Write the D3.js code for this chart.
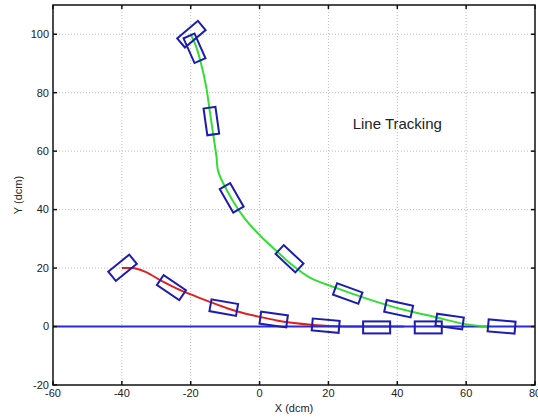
<!DOCTYPE html>
<html>
<head>
<meta charset="utf-8">
<script src="https://cdnjs.cloudflare.com/ajax/libs/d3/7.8.5/d3.min.js"></script>
<style>
body { margin: 0; background: #fff; }
text { font-family: Arial, "Liberation Sans", sans-serif; fill: #222; }
.grid line { stroke: #bdbdbd; stroke-dasharray: 1,2; }
</style>
</head>
<body>
<div id="chart"></div>
<script>
// line tracking plot: two paths converging on y = 0
var width = 538,
    height = 417;

var margin = {left: 53, right: 3, top: 5, bottom: 32};

var xTicks = [-60, -40, -20, 0, 20, 40, 60, 80];
var yTicks = [-20, 0, 20, 40, 60, 80, 100];

// target line
var lineX = [-60, 80];
var lineY = [0, 0];

// red path (start at -40,20)
var redX = [-40, -37, -33, -28.5, -24, -20, -15, -9, -4, 0, 5, 10, 15, 20, 30, 42];
var redY = [20, 20, 18.6, 15.6, 13, 11, 8.7, 6.1, 4.4, 3.3, 2.1, 1.2, 0.6, 0.2, 0, 0];

// green path (start at -20,100)
var greenX = [-20, -18.5, -17, -15.5, -14.5, -13.5, -12.5, -12, -8, -4, 0.5, 4.5, 9, 14.5, 22, 32, 41.6, 51.5, 59, 66];
var greenY = [100, 96, 90, 82, 74, 66, 58, 53, 43.5, 36.5, 30.7, 26.3, 21.5, 16.8, 13.3, 9.2, 5.8, 3.1, 1, 0];

// robot poses along each path (x, y, heading in degrees)
var greenPoseX = [-19.8, -18.9, -14, -8.1, 8.7, 25.6, 40.4, 55.2, 70.3];
var greenPoseY = [100, 95.2, 70.3, 44, 23.2, 11.3, 6.1, 1.7, 0];
var greenPoseA = [40, -66, -82, -60, -43, -20, -12, -8, -5];

var redPoseX = [-39.8, -25.6, -10.4, 4.1, 19.2, 34, 49];
var redPoseY = [20.1, 13.3, 6.5, 2.4, 0.3, -0.3, -0.3];
var redPoseA = [39, -34, -10, -8, -5, 0, 0];

var x = d3.scaleLinear()
    .domain([-60, 80])
    .range([margin.left, width - margin.right]);

var y = d3.scaleLinear()
    .domain([-20, 110])
    .range([height - margin.bottom, margin.top]);

var svg = d3.select("#chart").append("svg")
    .attr("width", width)
    .attr("height", height);

svg.append("defs").append("clipPath")
    .attr("id", "clip")
    .append("rect")
    .attr("x", margin.left)
    .attr("y", margin.top)
    .attr("width", width - margin.left - margin.right)
    .attr("height", height - margin.top - margin.bottom);

// grid
var grid = svg.append("g").attr("class", "grid");
grid.selectAll(".gx")
    .data(xTicks.slice(1, -1))
    .enter().append("line")
    .attr("x1", function(d) { return x(d); })
    .attr("x2", function(d) { return x(d); })
    .attr("y1", y.range()[0])
    .attr("y2", y.range()[1]);
grid.selectAll(".gy")
    .data(yTicks.slice(1))
    .enter().append("line")
    .attr("y1", function(d) { return y(d); })
    .attr("y2", function(d) { return y(d); })
    .attr("x1", x.range()[0])
    .attr("x2", x.range()[1]);

var plot = svg.append("g").attr("clip-path", "url(#clip)");

var line = d3.line()
    .x(function(d) { return x(d[0]); })
    .y(function(d) { return y(d[1]); });

plot.append("path")
    .datum(d3.zip(redX, redY))
    .attr("d", line.curve(d3.curveMonotoneX))
    .attr("fill", "none")
    .attr("stroke", "#e02020")
    .attr("stroke-width", 2);

plot.append("path")
    .datum(d3.zip(lineX, lineY))
    .attr("d", line.curve(d3.curveLinear))
    .attr("fill", "none")
    .attr("stroke", "#2a2ad8")
    .attr("stroke-width", 2);

plot.append("path")
    .datum(d3.zip(greenX, greenY))
    .attr("d", line.curve(d3.curveCatmullRom))
    .attr("fill", "none")
    .attr("stroke", "#33dd33")
    .attr("stroke-width", 2);

// robot boxes, drawn in screen space
var boxL = 27, boxW = 12;
var poses = d3.zip(greenPoseX, greenPoseY, greenPoseA)
    .concat(d3.zip(redPoseX, redPoseY, redPoseA));

plot.selectAll(".robot")
    .data(poses)
    .enter().append("rect")
    .attr("class", "robot")
    .attr("x", -boxL / 2)
    .attr("y", -boxW / 2)
    .attr("width", boxL)
    .attr("height", boxW)
    .attr("transform", function(d) {
        return "translate(" + x(d[0]) + "," + y(d[1]) + ") rotate(" + (-d[2]) + ")";
    })
    .attr("fill", "none")
    .attr("stroke", "#1c1cb0")
    .attr("stroke-width", 2);

// frame with inward ticks on all sides
var x0 = x.range()[0], x1 = x.range()[1], y0 = y.range()[0], y1 = y.range()[1];
var tk = 4;

svg.append("rect")
    .attr("x", x0)
    .attr("y", y1)
    .attr("width", x1 - x0)
    .attr("height", y0 - y1)
    .attr("fill", "none")
    .attr("stroke", "#111")
    .attr("stroke-width", 1.5);

var ticks = svg.append("g").attr("stroke", "#111").attr("stroke-width", 1.5);
xTicks.forEach(function(d) {
    ticks.append("line").attr("x1", x(d)).attr("x2", x(d)).attr("y1", y0).attr("y2", y0 - tk);
    ticks.append("line").attr("x1", x(d)).attr("x2", x(d)).attr("y1", y1).attr("y2", y1 + tk);
});
yTicks.forEach(function(d) {
    ticks.append("line").attr("y1", y(d)).attr("y2", y(d)).attr("x1", x0).attr("x2", x0 + tk);
    ticks.append("line").attr("y1", y(d)).attr("y2", y(d)).attr("x1", x1).attr("x2", x1 - tk);
});

svg.selectAll(".xlab")
    .data(xTicks)
    .enter().append("text")
    .attr("x", function(d) { return x(d); })
    .attr("y", y0 + 12)
    .style("font-size", "11px")
    .style("text-anchor", "middle")
    .text(function(d) { return d; });

svg.selectAll(".ylab")
    .data(yTicks)
    .enter().append("text")
    .attr("x", x0 - 4)
    .attr("y", function(d) { return y(d); })
    .attr("dy", "0.35em")
    .style("font-size", "11px")
    .style("text-anchor", "end")
    .text(function(d) { return d; });

svg.append("text")
    .attr("x", (x0 + x1) / 2)
    .attr("y", height - 5)
    .style("font-size", "11px")
    .style("text-anchor", "middle")
    .text("X (dcm)");

svg.append("text")
    .attr("transform", "translate(22," + ((y0 + y1) / 2) + ") rotate(-90)")
    .style("font-size", "11px")
    .style("text-anchor", "middle")
    .text("Y (dcm)");

svg.append("text")
    .attr("x", x(40))
    .attr("y", y(67.5))
    .style("font-size", "15px")
    .style("text-anchor", "middle")
    .text("Line Tracking");
</script>
</body>
</html>
